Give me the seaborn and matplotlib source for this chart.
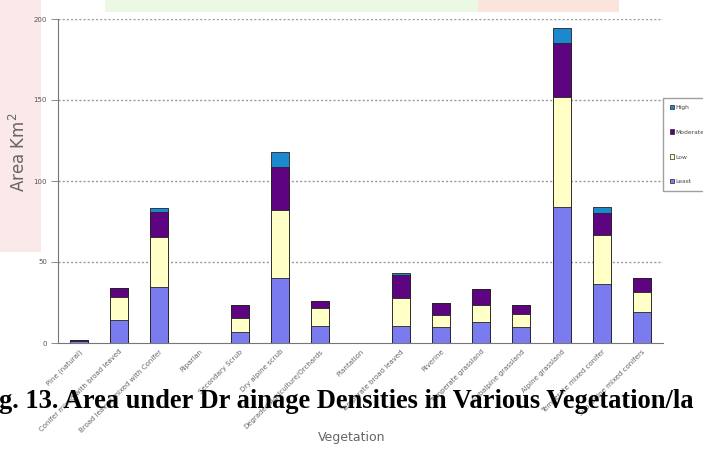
import numpy as np
import pandas as pd
import matplotlib
matplotlib.use("Agg")
import matplotlib.pyplot as plt
from matplotlib.patches import Rectangle, Patch
import seaborn as sns

# Vegetation / land-cover classes
categories = [
    "Pine (natural)",
    "Conifer mixed with broad leaved",
    "Broad leaved mixed with Conifer",
    "Riparian",
    "Secondary Scrub",
    "Dry alpine scrub",
    "Degraded/Agriculture/Orchards",
    "Plantation",
    "Temperate broad leaved",
    "Riverine",
    "Temperate grassland",
    "Subalpine grassland",
    "Alpine grassland",
    "Temperate mixed conifer",
    "Sub alpine mixed conifers",
]

# Area (km²) under each drainage-density class
least    = [1.0, 14.2, 34.5, 0, 6.8, 40.1, 10.5, 0, 10.5, 9.9, 13.0, 9.9, 84.0, 36.4, 19.1]
low      = [0.3, 14.2, 31.0, 0, 8.6, 42.0, 11.1, 0, 17.3, 7.4, 10.5, 8.0, 67.9, 30.2, 12.3]
moderate = [0.6, 5.6, 15.4, 0, 8.0, 26.5, 4.3, 0, 14.2, 7.4, 9.9, 5.6, 33.3, 13.6, 8.6]
high     = [0.0, 0.0, 2.5, 0, 0.0, 9.3, 0.0, 0, 1.5, 0.0, 0.0, 0.0, 9.3, 3.7, 0.0]

series_names = ["Least", "Low", "Moderate", "High"]
series_colors = ["#7b7bf0", "#ffffc6", "#5e0480", "#1b88cf"]
yticks = [0, 50, 100, 150, 200]

df = pd.DataFrame({"Vegetation": categories, "Least": least, "Low": low,
                   "Moderate": moderate, "High": high})
cum = df[series_names].cumsum(axis=1)
cum["Vegetation"] = categories

sns.set_theme(style="white")
plt.rcParams["font.family"] = ["DejaVu Sans"]

fig = plt.figure(figsize=(7.03, 4.75), dpi=100)

# faint tinted background bands of the page
fig.patches.append(Rectangle((0, 0.47), 0.058, 0.53, transform=fig.transFigure,
                             facecolor="#fbe3e3", edgecolor="none", zorder=-5, alpha=0.8))
fig.patches.append(Rectangle((0.15, 0.975), 0.55, 0.025, transform=fig.transFigure,
                             facecolor="#ecf9e2", edgecolor="none", zorder=-5))
fig.patches.append(Rectangle((0.68, 0.975), 0.2, 0.025, transform=fig.transFigure,
                             facecolor="#fbe4dc", edgecolor="none", zorder=-5))

ax = fig.add_axes([58 / 703, 1 - 343 / 475, (663 - 58) / 703, (343 - 19) / 475])
ax.set_facecolor("none")

# stacked bars: draw cumulative totals from the top layer down
for name, color in reversed(list(zip(series_names, series_colors))):
    sns.barplot(data=cum, x="Vegetation", y=name, color=color, saturation=1,
                width=0.45, edgecolor="#222222", linewidth=0.6, ax=ax, zorder=3)

ax.set_ylim(0, 200)
ax.set_xlim(-0.52, len(categories) - 0.48)
ax.set_yticks(yticks)
ax.set_yticklabels([str(v) for v in yticks], fontsize=5, color="#555555")
for v in yticks[1:]:
    ax.axhline(v, color="#999999", linestyle=(0, (1.5, 1.5)), linewidth=1.0, zorder=1)

ax.set_xticks(range(len(categories)))
ax.set_xticklabels(categories, rotation=45, ha="right", rotation_mode="anchor",
                   fontsize=5, color="#666666")
ax.set_xticks(np.arange(0.5, len(categories) - 0.5, 1), minor=True)
ax.tick_params(axis="x", which="major", length=0, pad=4)
ax.tick_params(axis="x", which="minor", length=3, width=0.6, color="#777777", direction="out")
ax.tick_params(axis="y", length=5, width=0.6, color="#777777", direction="out", left=True, pad=3)

for s in ["top", "right"]:
    ax.spines[s].set_visible(False)
ax.spines["left"].set_color("#777777")
ax.spines["left"].set_linewidth(0.8)
ax.spines["bottom"].set_color("#777777")
ax.spines["bottom"].set_linewidth(0.8)

ax.set_xlabel("")
ax.set_ylabel("")
fig.text(19 / 703, 1 - 152 / 475, "Area Km$^2$", rotation=90, ha="center", va="center",
         fontsize=12, color="#666666")
fig.text(352 / 703, 1 - 438 / 475, "Vegetation", ha="center", va="center",
         fontsize=9, color="#666666")

handles = [Patch(facecolor=c, edgecolor="#222222", linewidth=0.5, label=n)
           for n, c in reversed(list(zip(series_names, series_colors)))]
leg = fig.legend(handles=handles, loc="upper left",
                 bbox_to_anchor=(663 / 703, 1 - 98 / 475), fontsize=4.3,
                 frameon=True, handlelength=0.7, handleheight=0.7,
                 handletextpad=0.3, labelspacing=3.3, borderpad=1.1,
                 borderaxespad=0, fancybox=False, edgecolor="#888888")
for t in leg.get_texts():
    t.set_color("#444444")

fig.text(-1 / 703, 1 - 401 / 475, "g. 13. Area under Dr ainage Densities in Various Vegetation/la",
         ha="left", va="center", fontsize=19.1, fontweight="bold",
         family=["Liberation Serif", "DejaVu Serif"], color="black")

fig.savefig("out.png", dpi=100)
